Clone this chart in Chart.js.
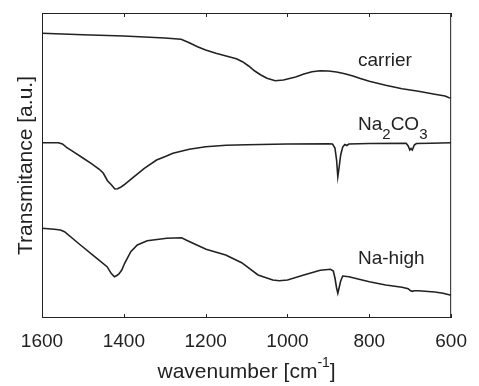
<!DOCTYPE html>
<html>
<head>
<meta charset="utf-8">
<script src="https://cdn.jsdelivr.net/npm/chart.js@4.4.1/dist/chart.umd.min.js"></script>
<style>
  html, body { margin: 0; padding: 0; background: #fff; }
  #wrap { width: 479px; height: 386px; }
</style>
</head>
<body>
<div id="wrap"><canvas id="chart-ir" width="479" height="386"></canvas></div>
<script>
// IR spectra, offset vertically (arbitrary units)
const carrierX = [1600, 1500, 1400, 1300, 1260, 1240, 1220, 1200, 1175, 1150, 1125, 1110, 1095, 1080, 1065, 1050, 1030, 1010, 1000, 980, 960, 940, 920, 900, 880, 860, 840, 820, 800, 760, 720, 680, 640, 615, 605, 600];
const carrierY = [284.7, 283.3, 282, 280, 278.7, 275.3, 271.3, 268, 264.7, 262, 259.3, 256.3, 252, 247, 243, 239.7, 237.3, 238, 239, 241, 244, 246.3, 247.3, 247, 246, 244.3, 242, 239.3, 236.7, 232.7, 229.3, 226.7, 223.7, 222, 220.3, 220];

const sodaX = [1600, 1560, 1550, 1540, 1520, 1500, 1480, 1460, 1450, 1440, 1430, 1422, 1415, 1408, 1400, 1380, 1350, 1320, 1300, 1280, 1240, 1200, 1150, 1100, 1000, 900, 890, 884, 880, 877, 874, 870, 865, 860, 855, 850, 800, 710, 705, 701, 698, 695, 690, 685, 650, 600];
const sodaY = [175.3, 175.3, 174, 170.7, 165.3, 160, 154.7, 148.7, 144.7, 137.3, 133, 129, 129.3, 130.7, 133, 139.7, 149.7, 158, 161.3, 164.7, 168.7, 171.3, 172.7, 173.3, 174, 174.3, 174, 170, 158, 141.3, 150, 163, 171, 173.5, 172.5, 174, 174.5, 174.7, 172, 168, 169.5, 168, 173, 174.5, 174.7, 175.3];

const naHighX = [1600, 1570, 1555, 1545, 1509, 1469, 1441, 1431, 1423, 1417, 1412, 1405, 1398, 1383, 1367, 1343, 1295, 1259, 1239, 1199, 1151, 1112, 1072, 1036, 1020, 1000, 960, 920, 895, 888, 884, 880, 877, 874, 870, 865, 850, 800, 760, 720, 705, 700, 695, 690, 680, 640, 620, 600];
const naHighY = [89.7, 88.7, 88, 86.3, 74, 60.7, 51.3, 44.7, 41.3, 42.5, 44, 48, 54.7, 66.3, 73, 77.3, 79.7, 80.3, 76.3, 68.7, 63, 55.3, 43, 38, 37.3, 38, 43, 47.7, 48.7, 47, 40, 30, 24.7, 30, 37, 42, 41.3, 36.3, 33, 30.7, 29.3, 27.5, 26.7, 27.3, 27.3, 26, 24.7, 22.7];

const xTicks = [1600, 1400, 1200, 1000, 800, 600];

const INK = "#222222";
const FONT = "'Liberation Sans', Arial, Helvetica, sans-serif";

const toPoints = (xs, ys) => xs.map((x, i) => ({ x, y: ys[i] }));

// draws a run of text pieces, each with its own size and vertical shift
function drawPieces(ctx, pieces, x, y, align) {
    const widths = pieces.map((p) => {
        ctx.font = `${p.size}px ${FONT}`;
        return ctx.measureText(p.t).width;
    });
    const total = widths.reduce((a, b) => a + b, 0);
    let cx = align === "center" ? x - total / 2 : x;
    ctx.textAlign = "left";
    ctx.textBaseline = "alphabetic";
    pieces.forEach((p, i) => {
        ctx.font = `${p.size}px ${FONT}`;
        ctx.fillText(p.t, cx, y + (p.dy || 0));
        cx += widths[i];
    });
}

const frameAndText = {
    id: "frameAndText",
    afterDraw(chart) {
        const { ctx, chartArea: a, scales } = chart;
        ctx.save();
        ctx.strokeStyle = INK;
        ctx.fillStyle = INK;
        ctx.lineWidth = 1;

        // box round the plot
        ctx.strokeRect(a.left + 0.5, a.top + 0.5, a.right - a.left - 1, a.bottom - a.top - 1);

        // inward ticks, top and bottom
        ctx.beginPath();
        xTicks.forEach((v) => {
            const px = Math.round(scales.x.getPixelForValue(v)) + 0.5;
            ctx.moveTo(px, a.bottom);
            ctx.lineTo(px, a.bottom - 4);
            ctx.moveTo(px, a.top);
            ctx.lineTo(px, a.top + 4);
        });
        ctx.stroke();

        // series labels
        drawPieces(ctx, [{ t: "carrier", size: 19 }], 358, 66);
        drawPieces(ctx, [
            { t: "Na", size: 19 },
            { t: "2", size: 15, dy: 9 },
            { t: "CO", size: 19 },
            { t: "3", size: 15, dy: 9 },
        ], 358, 130);
        drawPieces(ctx, [{ t: "Na-high", size: 19 }], 358, 264);

        // x axis title with superscript
        drawPieces(ctx, [
            { t: "wavenumber [cm", size: 21 },
            { t: "-1", size: 14, dy: -11 },
            { t: "]", size: 21 },
        ], (a.left + a.right) / 2, 378, "center");

        // y axis title
        ctx.translate(32, (a.top + a.bottom) / 2);
        ctx.rotate(-Math.PI / 2);
        ctx.font = `21px ${FONT}`;
        ctx.textAlign = "center";
        ctx.textBaseline = "alphabetic";
        ctx.fillText("Transmitance [a.u.]", 0, 0);
        ctx.restore();
    },
};

const lineStyle = {
    borderColor: INK,
    borderWidth: 1.6,
    pointRadius: 0,
    tension: 0,
    fill: false,
};

new Chart(document.getElementById("chart-ir").getContext("2d"), {
    type: "line",
    data: {
        datasets: [
            { label: "carrier", data: toPoints(carrierX, carrierY), ...lineStyle },
            { label: "Na2CO3", data: toPoints(sodaX, sodaY), ...lineStyle },
            { label: "Na-high", data: toPoints(naHighX, naHighY), ...lineStyle },
        ],
    },
    options: {
        responsive: false,
        animation: false,
        events: [],
        layout: { padding: { left: 0, right: 18, top: 13, bottom: 0 } },
        plugins: { legend: { display: false }, tooltip: { enabled: false } },
        scales: {
            x: {
                type: "linear",
                reverse: true,
                min: 600,
                max: 1600,
                afterFit: (s) => { s.height = 68; },
                afterBuildTicks: (s) => { s.ticks = xTicks.map((v) => ({ value: v })); },
                grid: { display: false, drawTicks: false },
                border: { display: false },
                ticks: {
                    autoSkip: false,
                    maxRotation: 0,
                    padding: 12,
                    color: INK,
                    font: { size: 19, family: FONT },
                    callback: (v) => String(v),
                },
            },
            y: {
                min: 0,
                max: 305,
                afterFit: (s) => { s.width = 42; },
                grid: { display: false, drawTicks: false },
                border: { display: false },
                ticks: { display: false },
            },
        },
    },
    plugins: [frameAndText],
});
</script>
</body>
</html>
